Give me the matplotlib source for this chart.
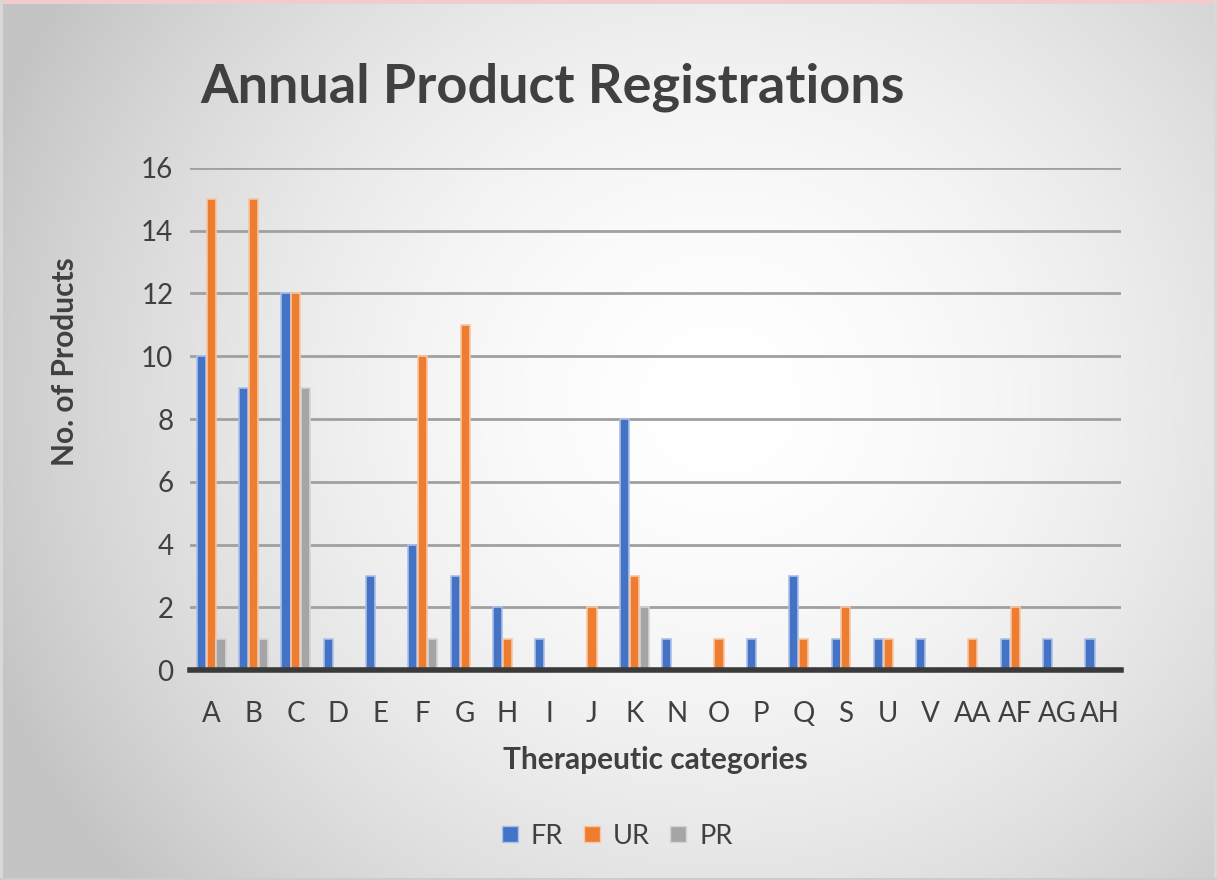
import numpy as np
import matplotlib
matplotlib.use("Agg")
import matplotlib.pyplot as plt
from matplotlib.lines import Line2D

categories = ["A", "B", "C", "D", "E", "F", "G", "H", "I", "J", "K", "N", "O", "P",
              "Q", "S", "U", "V", "AA", "AF", "AG", "AH"]
fr = [10, 9, 12, 1, 3, 4, 3, 2, 1, 0, 8, 1, 0, 1, 3, 1, 1, 1, 0, 1, 1, 1]
ur = [15, 15, 12, 0, 0, 10, 11, 1, 0, 2, 3, 0, 1, 0, 1, 2, 1, 0, 1, 2, 0, 0]
pr = [1, 1, 9, 0, 0, 1, 0, 0, 0, 0, 2, 0, 0, 0, 0, 0, 0, 0, 0, 0, 0, 0]
series_names = ["FR", "UR", "PR"]
yticks = [0, 2, 4, 6, 8, 10, 12, 14, 16]

colors = ["#4472C4", "#ED7D31", "#A5A5A5"]
edges = ["#A9C0EA", "#F8C6A4", "#D4D4D4"]
txt = "#404040"
font = ["Lato", "DejaVu Sans"]
plt.rcParams["font.family"] = font

W, H = 1217, 880
fig = plt.figure(figsize=(W / 100, H / 100), dpi=100)

# background radial gradient
bg = fig.add_axes([0, 0, 1, 1], zorder=-10)
yy, xx = np.mgrid[0:H, 0:W]
cx, cy = 720, 400
r = np.sqrt(((xx - cx) / 1.0) ** 2 + ((yy - cy) / 0.95) ** 2)
r = np.clip(r / 780.0, 0, 1)
val = 1.0 - 0.23 * r ** 1.8
img = np.dstack([val, val, val])
# outer frame
img[:5, :, :] = np.array([0.95, 0.80, 0.80])
img[:, :3, :] = 0.85
img[:, -3:, :] = 0.85
img[-2:, :, :] = 0.8
bg.imshow(img, aspect="auto", extent=[0, 1, 0, 1], interpolation="bilinear")
bg.axis("off")

ax = fig.add_axes([190 / W, (H - 670) / H, (1121 - 190) / W, (670 - 168) / H])
ax.patch.set_alpha(0)

x = np.arange(len(categories))
bw = 0.215
offs = [-0.232, 0.0, 0.232]
for vals, c, e, o, name in zip([fr, ur, pr], colors, edges, offs, series_names):
    ax.bar(x + o, vals, width=bw, color=c, edgecolor=e, linewidth=1.2, zorder=3, label=name)

ax.set_xlim(-0.5, len(categories) - 0.5)
ax.set_ylim(0, 16)
ax.set_yticks(yticks)
ax.set_xticks(x)
ax.set_xticklabels(categories)
ax.tick_params(axis="both", length=0, labelsize=20, colors=txt)
ax.tick_params(axis="x", pad=22)
ax.tick_params(axis="y", pad=12)
ax.grid(axis="y", color="#A0A0A0", linewidth=2, zorder=1)
for s in ["left", "right", "top"]:
    ax.spines[s].set_visible(False)
ax.spines["bottom"].set_color("#3a3a3a")
ax.spines["bottom"].set_linewidth(4)
ax.spines["bottom"].set_zorder(4)

ax.set_xlabel("Therapeutic categories", fontsize=21.5, fontweight="bold", color=txt, labelpad=14)
fig.text(65 / W, (H - 362) / H, "No. of Products", rotation=90, fontsize=21.5,
         fontweight="bold", color=txt, ha="center", va="center")

fig.text(200 / W, (H - 103) / H, "Annual Product Registrations", fontsize=39,
         fontweight="bold", color=txt, ha="left", va="baseline")

handles = [Line2D([], [], marker="s", linestyle="none", markersize=12,
                  markerfacecolor=c, markeredgecolor=e, markeredgewidth=1)
           for c, e in zip(colors, edges)]
fig.legend(handles, series_names, loc="center", bbox_to_anchor=(617 / W, (H - 836) / H),
           ncol=3, frameon=False, fontsize=19.5, labelcolor=txt, handlelength=0.63,
           handletextpad=0.45, columnspacing=0.75)

fig.savefig("out.png", dpi=100)
